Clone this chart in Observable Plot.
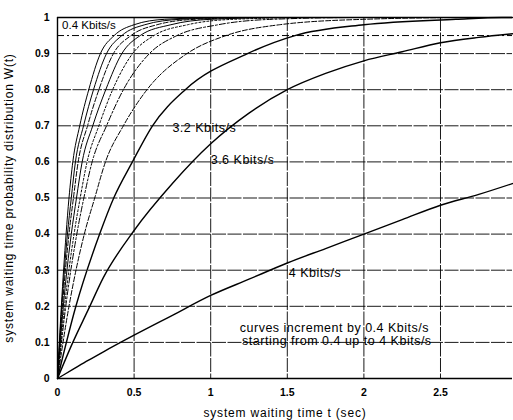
<!DOCTYPE html>
<html>
<head>
<meta charset="utf-8">
<script src="https://cdn.jsdelivr.net/npm/d3@7"></script>
<script src="https://cdn.jsdelivr.net/npm/@observablehq/plot@0.6"></script>
<style>
  html, body { margin: 0; padding: 0; background: #fff; }
</style>
</head>
<body>
<div id="chart"></div>
<script>
// ---- data ----
const rates = ["0.4", "0.8", "1.2", "1.6", "2.0", "2.4", "2.8", "3.2", "3.6", "4.0"];

// fast curves: crossing times t (sec) at these W(t) levels
const W_levels = [0, 0.2, 0.4, 0.5, 0.6, 0.7, 0.8, 0.9, 0.95, 0.98, 0.995, 1, 1];
const t_0_4 = [0, 0.025, 0.056, 0.075, 0.100, 0.145, 0.204, 0.28, 0.37, 0.50, 0.70, 1.10, 2.97];
const t_0_8 = [0, 0.028, 0.065, 0.090, 0.117, 0.170, 0.235, 0.32, 0.42, 0.57, 0.80, 1.20, 2.97];
const t_1_2 = [0, 0.032, 0.075, 0.104, 0.135, 0.196, 0.270, 0.365, 0.48, 0.65, 0.90, 1.35, 2.97];
const t_1_6 = [0, 0.038, 0.090, 0.124, 0.161, 0.230, 0.315, 0.42, 0.54, 0.74, 1.00, 1.50, 2.97];
const t_2_0 = [0, 0.046, 0.108, 0.148, 0.193, 0.270, 0.360, 0.49, 0.63, 0.85, 1.15, 1.70, 2.97];
const t_2_4 = [0, 0.054, 0.126, 0.172, 0.226, 0.320, 0.430, 0.60, 0.78, 1.05, 1.40, 2.00, 2.97];
const t_2_8 = [0, 0.075, 0.175, 0.243, 0.313, 0.430, 0.584, 0.845, 1.10, 1.45, 2.00, 2.70, 2.97];
const t_3_2 = [0, 0.120, 0.275, 0.367, 0.489, 0.620, 0.834, 1.24, 1.55, 2.00, 2.60, 2.90, 2.97];

// slow curves: W(t) at these times
const t_slow = [0, 0.1, 0.2, 0.3, 0.5, 0.75, 1, 1.25, 1.5, 1.75, 2, 2.25, 2.5, 2.75, 2.97];
const W_3_6 = [0, 0.10, 0.19, 0.28, 0.41, 0.54, 0.65, 0.735, 0.80, 0.845, 0.88, 0.905, 0.93, 0.945, 0.955];
const W_4_0 = [0, 0.025, 0.05, 0.074, 0.12, 0.175, 0.23, 0.275, 0.32, 0.36, 0.40, 0.44, 0.48, 0.51, 0.54];

const xTicks = [0, 0.5, 1, 1.5, 2, 2.5];
const yTicks = [0, 0.1, 0.2, 0.3, 0.4, 0.5, 0.6, 0.7, 0.8, 0.9, 1];
const refLevel = [0.95];

const firstLabel = ["0.4 Kbits/s"];
const firstLabelT = [0.03];
const firstLabelW = [0.978];
const labelText = ["3.2 Kbits/s", "3.6 Kbits/s", "4 Kbits/s",
                   "curves increment by 0.4 Kbits/s", "starting from 0.4 up to 4 Kbits/s"];
const labelT = [0.75, 1.00, 1.51, 1.19, 1.205];
const labelW = [0.695, 0.604, 0.292, 0.139, 0.103];

const xTitle = "system waiting time t (sec)";
const yTitle = "system waiting time probability distribution W(t)";

// ---- build tables ----
const fastT = [t_0_4, t_0_8, t_1_2, t_1_6, t_2_0, t_2_4, t_2_8, t_3_2];
const curves = fastT.map((ts, i) => ({rate: rates[i], pts: ts.map((t, j) => ({t, w: W_levels[j]}))}));
curves.push({rate: rates[8], pts: t_slow.map((t, j) => ({t, w: W_3_6[j]}))});
curves.push({rate: rates[9], pts: t_slow.map((t, j) => ({t, w: W_4_0[j]}))});
const labelRows = labelText.map((s, i) => ({s, t: labelT[i], w: labelW[i]}));
const firstRows = firstLabel.map((s, i) => ({s, t: firstLabelT[i], w: firstLabelW[i]}));

const dashFor = (i) => ({2: "5,2", 4: "2,2", 5: "6,2,2,2", 6: "5,2"}[i] || null);
const widthFor = (i) => (i >= 7 ? 1.4 : 1);

const font = "'Liberation Sans', Arial, Helvetica, sans-serif";
const fmt = (d) => String(d);

const chart = Plot.plot({
  width: 513,
  height: 420,
  marginLeft: 57,
  marginRight: 1,
  marginTop: 17,
  marginBottom: 42,
  x: {domain: [0, 2.97]},
  y: {domain: [0, 1]},
  style: {fontFamily: font, background: "#fff", color: "#000"},
  marks: [
    Plot.gridX(xTicks.slice(1), {stroke: "#000", strokeOpacity: 0.9, strokeWidth: 1, strokeDasharray: "14,1.5"}),
    Plot.gridY(yTicks.slice(1, -1), {stroke: "#000", strokeOpacity: 0.9, strokeWidth: 1, strokeDasharray: "14,1.5"}),
    Plot.ruleY(refLevel, {stroke: "#000", strokeWidth: 1, strokeDasharray: "7,3,2,3"}),
    ...curves.map((c, i) => Plot.line(c.pts, {
      x: "t", y: "w", curve: "monotone-x",
      stroke: "#000", strokeWidth: widthFor(i),
      strokeDasharray: dashFor(i)
    })),
    Plot.ruleX([0], {stroke: "#000", strokeWidth: 1.4}),
    Plot.ruleY([0, 1], {stroke: "#000", strokeWidth: 1.4}),
    Plot.text(firstRows, {x: "t", y: "w", text: "s", textAnchor: "start", fontSize: 11.5, fill: "#000"}),
    Plot.text(labelRows, {x: "t", y: "w", text: "s", textAnchor: "start", fontSize: 12.5, fill: "#000"}),
    Plot.axisX(xTicks, {tickSize: 0, tickPadding: 10, fontSize: 10.5, fontWeight: "bold", tickFormat: fmt, label: null}),
    Plot.axisY(yTicks, {tickSize: 0, tickPadding: 8, fontSize: 10.5, fontWeight: "bold", tickFormat: fmt, label: null}),
    Plot.text([xTitle], {frameAnchor: "bottom", dy: 35, textAnchor: "middle", lineAnchor: "middle", fontSize: 12}),
    Plot.text([yTitle], {frameAnchor: "left", dx: -48, textAnchor: "middle", lineAnchor: "middle", rotate: -90, fontSize: 12})
  ]
});

// widen letter spacing on titles and annotations to match the scanned lettering
chart.querySelectorAll("text").forEach((el) => {
  const s = el.textContent;
  if (s === xTitle || s === yTitle) el.setAttribute("letter-spacing", "0.8");
  else if (labelText.includes(s)) el.setAttribute("letter-spacing", "0.5");
});

document.getElementById("chart").appendChild(chart);
</script>
</body>
</html>
